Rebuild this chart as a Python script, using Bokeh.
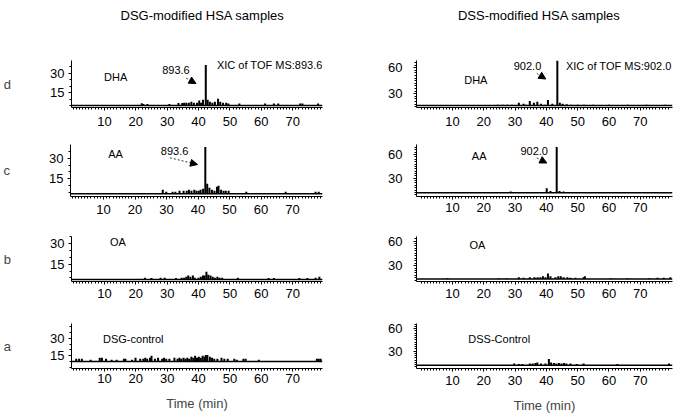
from bokeh.plotting import figure
from bokeh.layouts import column, row
from bokeh.models import Label, Arrow, NormalHead, FixedTicker, Span, Range1d
from bokeh.embed import file_html
from bokeh.resources import INLINE

FONT = "Liberation Sans"

# ---------------- data (retention time in min, peak height above baseline) ----------------
x_ticks = [10, 20, 30, 40, 50, 60, 70]
x_minor = list(range(0, 80))
left_yticks = [15, 30]
right_yticks = [30, 60]

# DSG-modified HSA samples
dsg_dha_base = 5.25
dsg_dha_t = [21.9, 22.4, 23.7, 30.7, 33.6, 34.8, 35.4, 36.1, 36.9, 37.7, 38.5, 39.5, 40.2, 40.8, 41.4,
             42.3, 42.9, 43.6, 44.4, 45.2, 46.2, 46.9, 47.8, 48.8, 49.5, 53.0, 61.2, 64.0, 65.4, 72.4, 73.1, 78.1]
dsg_dha_h = [1.7, 1.2, 1.2, 1.2, 1.9, 1.9, 2.2, 2.2, 2.2, 3.0, 2.2, 2.2, 3.8, 2.2, 4.5,
             31.0, 4.5, 3.0, 2.2, 3.0, 5.2, 3.0, 2.2, 2.2, 1.5, 1.5, 1.5, 1.5, 1.5, 1.5, 1.5, 1.5]

dsg_aa_base = 4.1
dsg_aa_t = [28.8, 29.9, 31.9, 32.8, 34.1, 35.4, 36.4, 37.1, 37.9, 38.8, 39.5, 40.2, 40.8, 41.6, 42.3,
            42.9, 43.6, 44.4, 45.2, 46.0, 46.5, 47.3, 48.1, 48.8, 49.7, 55.3, 67.8, 77.3, 78.3]
dsg_aa_h = [2.9, 1.5, 1.5, 1.5, 2.2, 2.2, 2.2, 2.9, 2.2, 2.9, 2.2, 2.2, 2.9, 3.6, 34.0,
            7.3, 4.4, 2.9, 2.2, 5.1, 5.8, 2.9, 2.2, 2.2, 2.2, 1.5, 1.5, 1.5, 1.5]

dsg_oa_base = 3.8
dsg_oa_t = [22.9, 25.0, 27.9, 29.2, 32.8, 34.6, 35.4, 36.1, 36.7, 37.4, 38.2, 38.8, 40.0, 40.7, 41.4, 41.9,
            42.5, 43.1, 43.8, 44.5, 45.2, 46.0, 46.7, 47.5, 52.5, 62.3, 64.0, 72.1, 74.7, 77.3, 78.5]
dsg_oa_h = [1.4, 1.1, 1.4, 1.4, 1.1, 1.4, 1.4, 2.1, 2.9, 2.1, 2.9, 1.4, 1.4, 2.1, 2.9, 2.9,
            5.7, 3.6, 2.9, 2.1, 1.4, 2.1, 1.4, 1.4, 1.4, 1.1, 1.1, 1.1, 1.1, 1.4, 2.1]

dsg_ctl_base = 10.0
dsg_ctl_t = [1.0, 1.9, 2.8, 5.6, 8.5, 9.2, 10.5, 12.3, 13.9, 16.2, 16.7, 18.8, 19.9, 21.4, 22.4, 23.0,
             23.6, 24.5, 25.0, 26.1, 27.1, 28.4, 29.0, 29.7, 30.7, 32.3, 33.3, 33.9, 34.5, 35.2, 35.8,
             36.4, 37.0, 37.7, 38.3, 38.9, 39.5, 40.1, 40.7, 41.3, 41.9, 42.3, 42.8, 43.6, 44.3, 45.0,
             46.0, 47.3, 48.2, 49.3, 51.4, 52.2, 54.3, 55.0, 59.2, 77.7, 78.3, 78.9]
dsg_ctl_h = [2.4, 2.4, 2.4, 1.6, 3.3, 3.3, 2.4, 1.6, 1.6, 2.4, 2.4, 1.6, 3.3, 2.4, 2.4, 3.3,
             2.4, 3.3, 4.9, 2.4, 3.3, 2.4, 3.3, 2.4, 2.4, 3.3, 2.4, 3.3, 2.4, 3.3, 2.4,
             3.3, 2.4, 4.1, 3.3, 4.9, 3.3, 4.1, 3.3, 4.9, 4.1, 5.7, 5.7, 4.1, 3.3, 2.4,
             2.4, 3.3, 2.4, 2.4, 2.4, 1.6, 2.4, 2.4, 1.6, 2.4, 2.4, 2.4]

# DSS-modified HSA samples
dss_dha_base = 16.4
dss_dha_t = [24.5, 26.0, 27.5, 29.0, 31.2, 32.7, 33.5, 34.7, 36.0, 37.1, 38.3, 39.5, 40.5, 41.9, 43.5,
             44.3, 45.2, 46.5, 48.0, 50.0, 52.0, 55.0, 60.0, 66.0, 72.0, 78.0]
dss_dha_h = [1.1, 1.1, 1.1, 1.1, 3.2, 2.2, 1.1, 5.4, 3.2, 4.3, 2.2, 1.1, 6.5, 2.2, 52.0,
             3.2, 2.2, 1.6, 1.1, 1.1, 1.1, 1.1, 1.1, 1.1, 1.1, 1.1]

dss_aa_base = 11.5
dss_aa_t = [25.0, 28.6, 32.0, 35.0, 37.5, 39.0, 40.1, 41.3, 43.3, 44.2, 45.5, 47.0, 50.0, 55.0, 62.0, 70.0, 78.0]
dss_aa_h = [1.2, 1.7, 1.2, 1.2, 1.2, 1.2, 5.8, 2.3, 58.0, 2.3, 1.7, 1.2, 1.2, 1.2, 1.2, 1.2, 1.2]

dss_oa_base = 13.5
dss_oa_t = [8.4, 24.8, 27.3, 31.2, 32.7, 34.7, 36.2, 37.2, 38.1, 38.9, 39.7, 40.5, 41.3, 42.9, 43.8, 44.6,
            45.5, 46.7, 47.7, 49.3, 51.9, 52.3, 60.6, 65.9, 72.8, 75.5, 77.5, 79.6]
dss_oa_h = [1.1, 1.1, 1.1, 2.3, 1.7, 2.3, 2.3, 2.3, 2.3, 3.4, 2.3, 6.8, 3.4, 2.3, 3.4, 3.4,
            2.3, 2.3, 1.7, 1.7, 2.3, 3.4, 1.1, 1.1, 1.1, 1.7, 1.7, 2.3]

dss_ctl_base = 11.0
dss_ctl_t = [29.7, 31.2, 32.3, 34.7, 35.6, 36.5, 37.1, 38.3, 39.7, 40.8, 41.5, 42.4, 43.2, 44.0, 44.8,
             45.6, 46.4, 47.7, 49.7, 51.9, 62.7, 79.2]
dss_ctl_h = [2.4, 1.8, 1.8, 2.4, 2.4, 3.0, 3.6, 2.4, 2.4, 8.3, 3.6, 3.0, 2.4, 3.0, 2.4,
             3.0, 2.4, 2.4, 1.8, 2.4, 1.8, 2.4]

# ---------------- layout geometry (page pixels; layout origin at 0,0) ----------------
LEFT_CX, RIGHT_CX = 0, 337
LEFT_W, RIGHT_W = 337, 336
TOP_H = 30
ROWS = [(30, 110), (140, 85), (225, 85), (310, 105)]   # (top, height) of each panel row
LEFT_X = dict(fx=66, fw=256, rfx=66, rfw=256, xr=(-0.5, 79.5))
RIGHT_X = dict(fx=416, fw=256, rfx=416, rfw=256, xr=(-1.5, 80.3))


def geom(xg, ref_fy, ref_fh, ref_yr, fy, fbottom):
    """frame geometry: measured y-scale of the reference, extended to the actual frame top"""
    upp = (ref_yr[1] - ref_yr[0]) / ref_fh
    y1 = ref_yr[1] + (ref_fy - fy) * upp
    y0 = ref_yr[1] - (fbottom - ref_fy) * upp
    return dict(xg, fy=fy, fh=fbottom - fy, yr=(y0, y1))


def gx(g, px):
    return g["xr"][0] + (px - g["rfx"]) / g["rfw"] * (g["xr"][1] - g["xr"][0])


def gy(g, py):
    return g["yr"][1] - (py - g["fy"]) / g["fh"] * (g["yr"][1] - g["yr"][0])


def make_panel(cx, width, cy, height, g, yticks, yminor, ystandoff, base, t, h, rowlabel,
               xstandoff=5, xlabel=None):
    p = figure(width=width, height=height, output_backend="svg", toolbar_location=None,
               x_range=Range1d(*g["xr"]), y_range=Range1d(*g["yr"]),
               min_border_left=g["fx"] - cx,
               min_border_right=width - (g["fx"] - cx) - g["fw"],
               min_border_top=g["fy"] - cy,
               min_border_bottom=height - (g["fy"] - cy) - g["fh"])
    p.outline_line_color = None
    p.xgrid.visible = False
    p.ygrid.visible = False
    p.background_fill_color = "white"
    p.border_fill_color = "white"

    p.xaxis.ticker = FixedTicker(ticks=x_ticks, minor_ticks=x_minor)
    p.yaxis.ticker = FixedTicker(ticks=yticks, minor_ticks=yminor)
    for ax in (p.xaxis[0], p.yaxis[0]):
        ax.axis_line_color = "black"
        ax.axis_line_width = 1
        ax.major_tick_in = 0
        ax.major_tick_out = 3
        ax.minor_tick_in = 0
        ax.minor_tick_out = 2
        ax.major_tick_line_color = "black"
        ax.minor_tick_line_color = "black"
        ax.major_label_text_font = FONT
        ax.major_label_text_font_size = "13px"
        ax.major_label_text_color = "black"
    p.xaxis.major_label_standoff = xstandoff
    p.yaxis.major_label_standoff = ystandoff
    if rowlabel:
        p.yaxis.axis_label = rowlabel
        p.yaxis.axis_label_orientation = "horizontal"
        p.yaxis.axis_label_text_font = FONT
        p.yaxis.axis_label_text_font_size = "13px"
        p.yaxis.axis_label_text_font_style = "normal"
        p.yaxis.axis_label_text_baseline = "middle"
        p.yaxis.axis_label_standoff = 36
    if xlabel:
        p.xaxis.axis_label = xlabel
        p.xaxis.axis_label_text_font = FONT
        p.xaxis.axis_label_text_font_size = "13px"
        p.xaxis.axis_label_text_font_style = "normal"
        p.xaxis.axis_label_standoff = 10

    p.add_layout(Span(location=base, dimension="width", line_color="black", line_width=1.5))
    p.segment(x0=t, y0=[base] * len(t), x1=t, y1=[base + v for v in h],
              line_color="black", line_width=2)
    return p


def add_text(p, g, px, py, text, size="11px", align="center"):
    p.add_layout(Label(x=gx(g, px), y=gy(g, py), text=text, text_font=FONT, text_font_size=size,
                       text_align=align, text_baseline="middle", text_color="black"))


def add_arrow(p, g, p0, p1):
    p.add_layout(Arrow(x_start=gx(g, p0[0]), y_start=gy(g, p0[1]), x_end=gx(g, p1[0]), y_end=gy(g, p1[1]),
                       line_color="black", line_width=0.8, line_dash="2 2",
                       end=NormalHead(size=7, fill_color="black", line_color="black", line_width=1)))


def title_strip(cx, width, title, center_px):
    p = figure(width=width, height=TOP_H, output_backend="svg", toolbar_location=None,
               x_range=Range1d(0, width), y_range=Range1d(0, TOP_H),
               x_axis_type=None, y_axis_type=None, min_border=0)
    p.outline_line_color = None
    p.xgrid.visible = False
    p.ygrid.visible = False
    p.add_layout(Label(x=center_px - cx, y=TOP_H - 15, text=title, text_font=FONT,
                       text_font_size="13px", text_align="center", text_baseline="middle",
                       text_color="black"))
    return p


left_minor = list(range(5, 45, 5))
right_minor = list(range(3, 72, 3))

# ---- left column ----
gLd = geom(LEFT_X, 65, 43, (3.75, 36.0), 60, 108)
gLc = geom(LEFT_X, 150, 46, (2.1, 35.6), 144, 196)
gLb = geom(LEFT_X, 236, 46, (2.4, 35.3), 236, 282)
gLa = geom(LEFT_X, 323, 47, (4.0, 42.7), 323, 370)

Ld = make_panel(LEFT_CX, LEFT_W, ROWS[0][0], ROWS[0][1], gLd, left_yticks, left_minor, 4,
                dsg_dha_base, dsg_dha_t, dsg_dha_h, "d", xstandoff=6)
Lc = make_panel(LEFT_CX, LEFT_W, ROWS[1][0], ROWS[1][1], gLc, left_yticks, left_minor, 4,
                dsg_aa_base, dsg_aa_t, dsg_aa_h, "c", xstandoff=5)
Lb = make_panel(LEFT_CX, LEFT_W, ROWS[2][0], ROWS[2][1], gLb, left_yticks, left_minor, 4,
                dsg_oa_base, dsg_oa_t, dsg_oa_h, "b", xstandoff=4)
La = make_panel(LEFT_CX, LEFT_W, ROWS[3][0], ROWS[3][1], gLa, left_yticks, left_minor, 4,
                dsg_ctl_base, dsg_ctl_t, dsg_ctl_h, "a", xstandoff=2, xlabel="Time (min)")

add_text(Ld, gLd, 111, 76.7, "DHA")
add_text(Ld, gLd, 172.5, 70, "893.6")
add_text(Ld, gLd, 322, 65, "XIC of TOF MS:893.6", align="right")
add_arrow(Ld, gLd, (183, 78), (193, 83.5))

add_text(Lc, gLc, 111.7, 153.3, "AA")
add_text(Lc, gLc, 171.7, 150, "893.6")
add_arrow(Lc, gLc, (167, 157.3), (195, 164))

add_text(Lb, gLb, 113.3, 241.7, "OA")
add_text(La, gLa, 129, 339.3, "DSG-control")

# ---- right column ----
gRd = geom(RIGHT_X, 59, 48, (14.2, 66.2), 57, 107)
gRc = geom(RIGHT_X, 149, 50, (6.9, 64.6), 142, 199)
gRb = geom(RIGHT_X, 232, 49, (10.5, 65.6), 232, 281)
gRa = geom(RIGHT_X, 317, 51, (6.6, 67.0), 317, 368)

Rd = make_panel(RIGHT_CX, RIGHT_W, ROWS[0][0], ROWS[0][1], gRd, right_yticks, right_minor, 11,
                dss_dha_base, dss_dha_t, dss_dha_h, None, xstandoff=6)
Rc = make_panel(RIGHT_CX, RIGHT_W, ROWS[1][0], ROWS[1][1], gRc, right_yticks, right_minor, 11,
                dss_aa_base, dss_aa_t, dss_aa_h, None, xstandoff=3)
Rb = make_panel(RIGHT_CX, RIGHT_W, ROWS[2][0], ROWS[2][1], gRb, right_yticks, right_minor, 11,
                dss_oa_base, dss_oa_t, dss_oa_h, None, xstandoff=4)
Ra = make_panel(RIGHT_CX, RIGHT_W, ROWS[3][0], ROWS[3][1], gRa, right_yticks, right_minor, 11,
                dss_ctl_base, dss_ctl_t, dss_ctl_h, None, xstandoff=4, xlabel="Time (min)")

add_text(Rd, gRd, 475.3, 77.3, "DHA")
add_text(Rd, gRd, 527, 63.3, "902.0")
add_text(Rd, gRd, 671, 63.3, "XIC of TOF MS:902.0", align="right")
add_arrow(Rd, gRd, (536.3, 70.7), (545.3, 76.7))

add_text(Rc, gRc, 478.7, 155, "AA")
add_text(Rc, gRc, 533.7, 149.3, "902.0")
add_arrow(Rc, gRc, (536.3, 156.7), (546.3, 162.3))

add_text(Rb, gRb, 477, 241.7, "OA")
add_text(Ra, gRa, 498.7, 335, "DSS-Control")

Tl = title_strip(LEFT_CX, LEFT_W, "DSG-modified HSA samples", 202)
Tr = title_strip(RIGHT_CX, RIGHT_W, "DSS-modified HSA samples", 538.7)

layout = column(row(Tl, Tr), row(Ld, Rd), row(Lc, Rc), row(Lb, Rb), row(La, Ra))

open("out.html", "w").write(file_html(layout, INLINE))
